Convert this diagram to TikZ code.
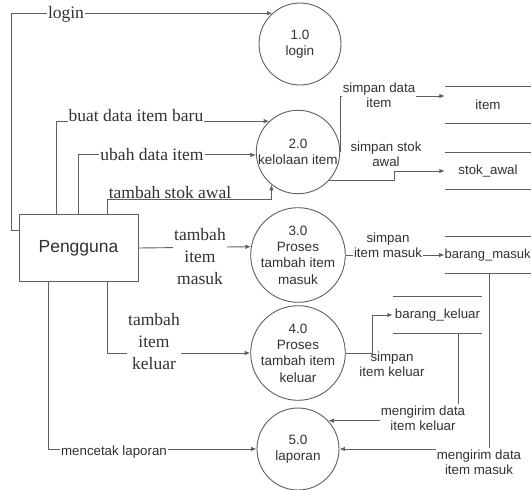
\documentclass[tikz,border=0pt]{standalone}
\usepackage{fontspec}
\setmainfont{Liberation Serif}
\newfontfamily\arialfont{Liberation Sans}
\usetikzlibrary{arrows.meta,calc}

\definecolor{linegray}{RGB}{95,95,95}
\definecolor{inkgray}{RGB}{50,50,50}

\begin{document}
\begin{tikzpicture}[x=1pt,y=-1pt,
  plain/.style={draw=linegray, line width=0.9pt},
  flow/.style={plain, -{Latex[length=5.5pt,width=4.5pt]}},
  proc/.style={circle, draw=linegray, line width=0.9pt, minimum size=82pt,
    inner sep=0pt, align=center, text=inkgray,
    font=\arialfont\fontsize{13.5}{16.3}\selectfont},
  entity/.style={rectangle, draw=linegray, line width=0.9pt,
    minimum width=119pt, minimum height=67pt, text=inkgray,
    font=\arialfont\fontsize{17.5}{20}\selectfont},
  store/.style={minimum height=37pt, inner sep=0pt, text=inkgray,
    font=\arialfont\fontsize{13.3}{16}\selectfont},
  slbl/.style={font=\fontsize{17.5}{22}\selectfont, text=inkgray,
    align=center, fill=white, inner sep=1pt},
  albl/.style={font=\arialfont\fontsize{13.3}{15.5}\selectfont,
    text=inkgray, align=center, inner sep=1pt},
]
\fill[white] (0,0) rectangle (531,490);
\useasboundingbox (0,0) rectangle (531,490);

% external entity
\node[entity] (user) at (78.5,248) {Pengguna};

% processes
\node[proc] (p1) at (300,44)  {1.0\\login};
\node[proc] (p2) at (298,152) {2.0\\kelolaan item};
\node[proc] (p3) at (298,255) {3.0\\Proses\\tambah item\\masuk};
\node[proc] (p4) at (298,353) {4.0\\Proses\\tambah item\\keluar};
\node[proc] (p5) at (298,449) {5.0\\laporan};

% data stores
\node[store, minimum width=86pt] (s1) at (488,105) {item};
\node[store, minimum width=86pt] (s2) at (488,171) {stok\_awal};
\node[store, minimum width=86pt, anchor=west,
  font=\arialfont\fontsize{13}{16}\selectfont] (s3) at (444.5,255) {barang\_masuk};
\node[store, minimum width=89pt, minimum height=36pt] (s4) at (437.5,315) {barang\_keluar};
\foreach \s in {s1,s2,s3,s4}
  \draw[plain] (\s.north west) -- (\s.north east)
               (\s.south west) -- (\s.south east);

% flows from the user
\draw[flow] ([yshift=18pt]user.west) -- ++(-7,0) |- (p1.132);
\draw[flow] ([xshift=38pt]user.north west) |- (p2.133);
\draw[flow] ([xshift=60pt]user.north west) |- (p2.184);
\draw[flow] ([xshift=89pt]user.north west) -- ++(0,-15) -| (p2.231);
\draw[flow] (user.east) -- (p3.170);
\draw[flow] ([xshift=89pt]user.south west) |- (p4.west);
\draw[flow] ([xshift=30pt]user.south west) |- (p5.west);

% flows to and from the stores
\draw[flow] (p2.east) |- ([yshift=9pt]s1.west);
\draw[flow] (p2.-42) -- ++(65,0) |- (s2.west);
\draw[flow] (p3.east) -- (s3.west);
\draw[flow] (p4.east) -- ++(27,0) |- (s4.west);
\draw[flow] ([xshift=44.5pt]s3.south west) |- (p5.east);
\draw[flow] ([xshift=66pt]s4.south west) |- (p5.43);

% flow labels
\node[slbl] (l-login) at (66,14) {login};
\node[slbl, anchor=base] (l-buat) at (136,121) {buat data item baru};
\node[slbl, anchor=base] (l-ubah) at (152,160) {ubah data item};
\node[slbl, anchor=base] (l-stok) at (170,198) {tambah stok awal};
\node[slbl] (l-masuk) at (200,257) {tambah\\item\\masuk};
\node[slbl] (l-keluar) at (154,342) {tambah\\item\\keluar};
\node[albl, fill=white] (l-cetak) at (114,452) {mencetak laporan};
\node[albl, fill=white] (l-sdi) at (379,95) {simpan data\\item};
\node[albl] (l-ssa) at (386,154) {simpan stok\\awal};
\node[albl, fill=white] (l-sim) at (388,245) {simpan\\item masuk};
\node[albl] (l-sik) at (392,364) {simpan\\item keluar};
\node[albl, fill=white] (l-mk) at (423,418) {mengirim data\\item keluar};
\node[albl, fill=white] (l-mm) at (479,462) {mengirim data\\item masuk};
\end{tikzpicture}
\end{document}
